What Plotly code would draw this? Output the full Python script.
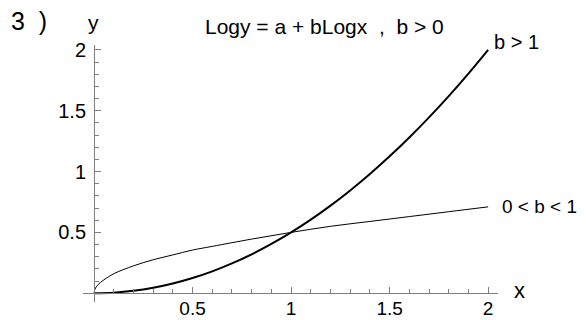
import plotly.graph_objects as go

# data
x_thick = [0, 0.1, 0.2, 0.3, 0.4, 0.5, 0.6, 0.7, 0.8, 0.9, 1.0, 1.1, 1.2, 1.3, 1.4, 1.5, 1.6, 1.7, 1.8, 1.9, 2.0]
y_thick = [0, 0.005, 0.02, 0.045, 0.08, 0.125, 0.18, 0.245, 0.32, 0.405, 0.5, 0.605, 0.72, 0.845, 0.98, 1.125, 1.28, 1.445, 1.62, 1.805, 2.0]
x_thin = [0, 0.005, 0.02, 0.05, 0.1, 0.2, 0.3, 0.4, 0.5, 0.6, 0.8, 1.0, 1.2, 1.4, 1.6, 1.8, 2.0]
y_thin = [0, 0.035, 0.07, 0.11, 0.16, 0.225, 0.275, 0.315, 0.355, 0.385, 0.445, 0.5, 0.55, 0.59, 0.63, 0.67, 0.71]
tick_vals = [0.5, 1, 1.5, 2]
tick_text = ["0.5", "1", "1.5", "2"]

# page offset (browser body margin)
OFF = 8
W, H = 586 - OFF, 320 - OFF
# target plot-area edges in window pixels
LEFT, RIGHT, TOP, BOTTOM = 83, 498, 45, 302
L, R, T, B = LEFT - OFF, 586 - RIGHT, TOP - OFF, 320 - BOTTOM
PW, PH = W - L - R, H - T - B
XR = [-0.056, 2.05]
YR = [-0.072, 2.04]

def px(xp):
    return (xp - LEFT) / PW

def py(yp):
    return (BOTTOM - yp) / PH

FONT = "Liberation Sans, Arial, sans-serif"
AX = "#7f7f7f"

fig = go.Figure()
fig.add_trace(go.Scatter(x=x_thin, y=y_thin, mode="lines", line=dict(color="black", width=1, shape="spline"), hoverinfo="skip"))
fig.add_trace(go.Scatter(x=x_thick, y=y_thick, mode="lines", line=dict(color="black", width=2, shape="spline"), hoverinfo="skip"))

axis_common = dict(showgrid=False, zeroline=False, showline=True, linecolor=AX, linewidth=1,
                   anchor="free", automargin=False, tickmode="array", tickvals=tick_vals, ticktext=tick_text,
                   ticks="inside", ticklen=6, tickcolor=AX, tickwidth=1,
                   minor=dict(dtick=0.1, tick0=0, ticks="inside", ticklen=4, tickcolor=AX, tickwidth=1))

fig.update_layout(
    width=W, height=H, margin=dict(l=L, r=R, t=T, b=B, autoexpand=False),
    paper_bgcolor="white", plot_bgcolor="white", showlegend=False,
    font=dict(family=FONT, size=20, color="black"),
    xaxis=dict(range=XR, position=(0 - YR[0]) / (YR[1] - YR[0]), ticklabelstandoff=-2,
               tickfont=dict(size=19, family=FONT, color="black"), **axis_common),
    yaxis=dict(range=YR, position=(0 - XR[0]) / (XR[1] - XR[0]), ticklabelstandoff=4,
               tickfont=dict(size=20, family=FONT, color="black"), **axis_common),
)

def ann(text, xp, yp, size, xanchor="left"):
    fig.add_annotation(text=text, x=px(xp), y=py(yp), xref="paper", yref="paper",
                       xanchor=xanchor, yanchor="middle", showarrow=False,
                       font=dict(family=FONT, size=size, color="black"))

ann("3 \u00a0)", 9, 21, 25)
ann("y", 93, 22, 21, "center")
ann("Logy = a + bLogx  ,  b > 0", 324, 26, 21, "center")
ann("b > 1", 492, 42, 20)
ann("0 < b < 1", 500, 206, 19)
ann("x", 512, 290, 22)

fig.write_html("out.html")
